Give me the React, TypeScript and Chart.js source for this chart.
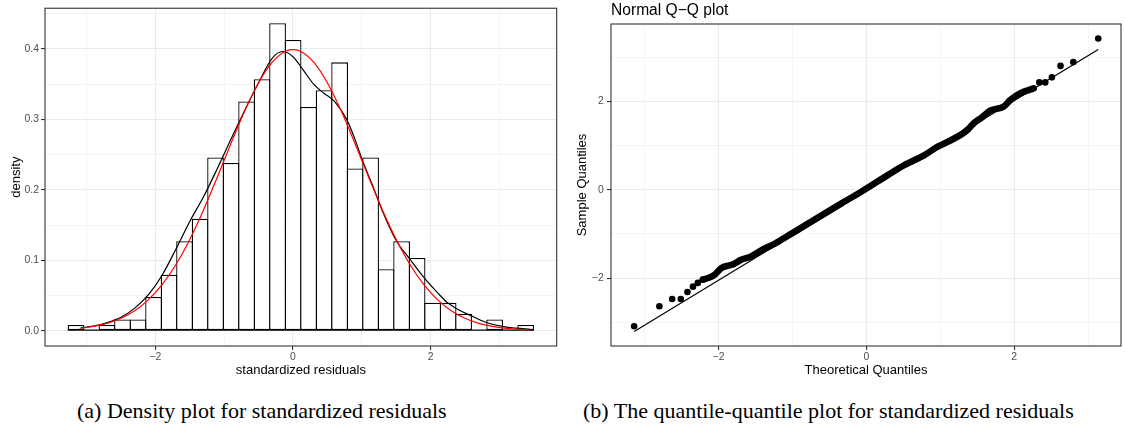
import React, { useEffect, useRef } from 'react';
import { Chart, registerables } from 'chart.js';

Chart.register(...registerables);

// ---------- Data: histogram of standardized residuals ----------
const binCenters = [
  -3.153, -2.928, -2.703, -2.477, -2.252, -2.026, -1.801, -1.576, -1.35, -1.125,
  -0.9, -0.674, -0.449, -0.224, 0.002, 0.227, 0.452, 0.678, 0.903, 1.128,
  1.354, 1.579, 1.804, 2.03, 2.255, 2.48, 2.706, 2.931, 3.156, 3.382,
];
const binDensity = [
  0.008, 0, 0.008, 0.016, 0.016, 0.0477, 0.0794, 0.127, 0.159, 0.246,
  0.238, 0.3254, 0.357, 0.4365, 0.4127, 0.3175, 0.3413, 0.381, 0.2302, 0.246,
  0.0873, 0.127, 0.1032, 0.0397, 0.0397, 0.0238, 0, 0.016, 0, 0.008,
];

// kernel density estimate (black)
const kdeX = [
  -3.08, -2.9, -2.7, -2.5, -2.3, -2.1, -1.9, -1.7, -1.5, -1.3, -1.1, -0.9, -0.7, -0.5,
  -0.3, -0.15, 0.0, 0.15, 0.3, 0.45, 0.6, 0.78, 0.9, 1.02, 1.15, 1.3, 1.5, 1.7, 1.92,
  2.1, 2.234, 2.4, 2.57, 2.8, 3.06, 3.25, 3.44,
];
const kdeY = [
  0.004, 0.0065, 0.0115, 0.019, 0.032, 0.051, 0.079, 0.116, 0.155, 0.19, 0.23, 0.272,
  0.313, 0.352, 0.387, 0.3964, 0.389, 0.37, 0.35, 0.337, 0.326, 0.3, 0.272, 0.239,
  0.208, 0.17, 0.128, 0.1014, 0.0734, 0.054, 0.0406, 0.03, 0.022, 0.012, 0.0056,
  0.0035, 0.0023,
];

// fitted normal density (red)
const normX = [
  -3.1, -2.9, -2.7, -2.5, -2.3, -2.1, -1.9, -1.7, -1.5, -1.3, -1.1, -0.9, -0.7, -0.5,
  -0.3, -0.1, 0.0, 0.1, 0.3, 0.5, 0.7, 0.9, 1.1, 1.3, 1.5, 1.7, 1.9, 2.1, 2.3, 2.5,
  2.7, 2.9, 3.1, 3.3, 3.44,
];
const normY = [
  0.0033, 0.006, 0.0104, 0.0175, 0.0283, 0.044, 0.0656, 0.094, 0.1295, 0.1714, 0.2179,
  0.2661, 0.3123, 0.3521, 0.3814, 0.397, 0.399, 0.397, 0.3814, 0.3521, 0.3123, 0.2661,
  0.2179, 0.1714, 0.1295, 0.094, 0.0656, 0.044, 0.0283, 0.0175, 0.0104, 0.006, 0.0033,
  0.0017, 0.0011,
];

const histXMajor = [-2, 0, 2];
const histYMajor = [0, 0.1, 0.2, 0.3, 0.4];

// ---------- Data: normal Q-Q plot ----------
const qqTitle = 'Normal Q\u2212Q plot';
// individually visible points (tails)
const qqTheoretical = [
  -3.141, -2.8, -2.627, -2.51, -2.42, -2.345, -2.28, -2.21,
  2.34, 2.42, 2.51, 2.627, 2.8, 3.137,
];
const qqSample = [
  -3.093, -2.64, -2.473, -2.473, -2.315, -2.195, -2.11, -2.036,
  2.436, 2.436, 2.55, 2.81, 2.896, 3.43,
];
// dense central run of points (overlapping markers)
const bandTheoretical = [
  -2.21, -2.14, -2.05, -1.96, -1.85, -1.785, -1.695, -1.56, -1.405, -1.225, -1.0,
  -0.778, -0.554, -0.33, -0.063, 0.295, 0.519, 0.787, 0.966, 1.15, 1.3, 1.38, 1.46,
  1.56, 1.68, 1.86, 1.95, 2.085, 2.264,
];
const bandSample = [
  -2.036, -2.0, -1.92, -1.77, -1.71, -1.674, -1.584, -1.51, -1.357, -1.207, -0.98,
  -0.754, -0.528, -0.3, -0.038, 0.34, 0.566, 0.79, 0.98, 1.13, 1.27, 1.38, 1.52,
  1.64, 1.8, 1.89, 2.04, 2.19, 2.3,
];
// reference line end points
const refLineX = [-3.14, 3.137];
const refLineY = [-3.21, 3.18];

const qqXMajor = [-2, 0, 2];
const qqYMajor = [-2, 0, 2];

// ---------- styling helpers ----------
const SANS = "'Liberation Sans', Arial, Helvetica, sans-serif";
const GRID = '#EBEBEB';
const DARK = '#333333';
const TICK_TXT = '#4D4D4D';

const near = (a: number, b: number) => Math.abs(a - b) < 1e-6;
const isIn = (v: number, list: number[]) => list.some((m) => near(m, v));
const fmtSigned = (v: number) => (v < 0 ? '\u2212' + Math.abs(v) : String(v));

function makeAxis(o: {
  min: number; max: number; step: number; majors: number[]; fmt: (v: number) => string;
  title: string; titlePad: any; tickPad: number; fit: (s: any) => void;
}) {
  return {
    type: 'linear',
    min: o.min,
    max: o.max,
    offset: false,
    grid: {
      offset: false,
      color: GRID,
      lineWidth: (c: any) => (c.tick && isIn(c.tick.value, o.majors) ? 1.1 : 0.55),
      tickColor: (c: any) => (c.tick && isIn(c.tick.value, o.majors) ? DARK : 'rgba(0,0,0,0)'),
      tickWidth: 1.1,
      tickLength: 4,
      drawTicks: true,
    },
    border: { display: false },
    ticks: {
      stepSize: o.step,
      includeBounds: false,
      autoSkip: false,
      maxRotation: 0,
      minRotation: 0,
      padding: o.tickPad,
      color: TICK_TXT,
      font: { family: SANS, size: 10.4 },
      callback: (v: any) => (isIn(Number(v), o.majors) ? o.fmt(Number(v)) : ''),
    },
    title: {
      display: true,
      text: o.title,
      color: '#000000',
      font: { family: SANS, size: 13 },
      padding: o.titlePad,
    },
    afterFit: o.fit,
  };
}

const panelBorder = {
  id: 'panelBorder',
  afterDraw(chart: any) {
    const { ctx, chartArea: a } = chart;
    ctx.save();
    ctx.strokeStyle = DARK;
    ctx.lineWidth = 1.1;
    ctx.strokeRect(a.left, a.top, a.right - a.left, a.bottom - a.top);
    ctx.restore();
  },
};

// plot title left-aligned with the panel
const panelTitle = {
  id: 'panelTitle',
  afterDraw(chart: any, _args: any, opts: any) {
    if (!opts || !opts.text) return;
    const { ctx, chartArea: a } = chart;
    ctx.save();
    ctx.fillStyle = '#000000';
    ctx.font = `15.6px ${SANS}`;
    ctx.textAlign = 'left';
    ctx.textBaseline = 'alphabetic';
    ctx.fillText(opts.text, a.left, 15);
    ctx.restore();
  },
};

// baseline along the histogram's outline (zero-count bins included)
const histBaseline = {
  id: 'histBaseline',
  afterDatasetDraw(chart: any, args: any) {
    const meta = chart.getDatasetMeta(args.index);
    if (meta.type !== 'bar') return;
    const els = meta.data;
    if (!els.length) return;
    const first = els[0];
    const last = els[els.length - 1];
    const y0 = chart.scales.y.getPixelForValue(0);
    const { ctx } = chart;
    ctx.save();
    ctx.strokeStyle = '#000000';
    ctx.lineWidth = 1.2;
    ctx.beginPath();
    ctx.moveTo(first.x - first.width / 2, y0 - 0.6);
    ctx.lineTo(last.x + last.width / 2, y0 - 0.6);
    ctx.stroke();
    ctx.restore();
  },
};

function HistChart() {
  const ref = useRef<HTMLCanvasElement | null>(null);
  useEffect(() => {
    if (!ref.current) return;
    const chart = new Chart(ref.current, {
      type: 'bar',
      data: {
        datasets: [
          {
            type: 'line',
            data: normX.map((x, i) => ({ x, y: normY[i] })),
            borderColor: '#FF0000',
            borderWidth: 1.2,
            pointRadius: 0,
            cubicInterpolationMode: 'monotone',
            fill: false,
          } as any,
          {
            type: 'line',
            data: kdeX.map((x, i) => ({ x, y: kdeY[i] })),
            borderColor: '#000000',
            borderWidth: 1.2,
            pointRadius: 0,
            cubicInterpolationMode: 'monotone',
            fill: false,
          } as any,
          {
            type: 'bar',
            data: binCenters.map((x, i) => ({ x, y: binDensity[i] })),
            backgroundColor: '#FFFFFF',
            borderColor: '#000000',
            borderWidth: 1.3,
            borderSkipped: false,
            barPercentage: 1.08,
            categoryPercentage: 1,
          } as any,
        ],
      },
      options: {
        animation: false,
        responsive: false,
        maintainAspectRatio: false,
        layout: { padding: { left: 0, top: 2.7, right: 3.3, bottom: 1.5 } },
        plugins: { legend: { display: false }, tooltip: { enabled: false }, title: { display: false } },
        scales: {
          x: makeAxis({
            min: -3.604, max: 3.833, step: 1, majors: histXMajor, fmt: fmtSigned,
            title: 'standardized residuals', titlePad: { top: 0, bottom: 0 }, tickPad: 1,
            fit: (s: any) => { s.height = 32.5; },
          }),
          y: makeAxis({
            min: -0.0218, max: 0.4578, step: 0.05, majors: histYMajor, fmt: (v) => v.toFixed(1),
            title: 'density', titlePad: { top: 8.2, bottom: 0 }, tickPad: 2,
            fit: (s: any) => { s.width = 45; },
          }),
        } as any,
      },
      plugins: [histBaseline, panelBorder],
    } as any);
    return () => chart.destroy();
  }, []);
  return (
    <canvas
      ref={ref}
      width={560}
      height={380}
      style={{ position: 'absolute', left: 0, top: 0, width: 560, height: 380 }}
    />
  );
}

function QQChart() {
  const ref = useRef<HTMLCanvasElement | null>(null);
  useEffect(() => {
    if (!ref.current) return;
    const chart = new Chart(ref.current, {
      type: 'scatter',
      data: {
        datasets: [
          {
            type: 'line',
            data: refLineX.map((x, i) => ({ x, y: refLineY[i] })),
            borderColor: '#000000',
            borderWidth: 1.2,
            pointRadius: 0,
            showLine: true,
            fill: false,
          } as any,
          {
            type: 'scatter',
            data: qqTheoretical.map((x, i) => ({ x, y: qqSample[i] })),
            backgroundColor: '#000000',
            borderColor: '#000000',
            borderWidth: 0,
            pointRadius: 3.3,
          } as any,
          {
            type: 'line',
            data: bandTheoretical.map((x, i) => ({ x, y: bandSample[i] })),
            borderColor: '#000000',
            borderWidth: 6.6,
            borderCapStyle: 'round',
            borderJoinStyle: 'round',
            pointRadius: 0,
            showLine: true,
            cubicInterpolationMode: 'monotone',
            fill: false,
          } as any,
        ],
      },
      options: {
        animation: false,
        responsive: false,
        maintainAspectRatio: false,
        layout: { padding: { left: 0, top: 24, right: 0, bottom: 1.5 } },
        plugins: {
          legend: { display: false },
          tooltip: { enabled: false },
          title: { display: false },
          panelTitle: { text: qqTitle },
        } as any,
        scales: {
          x: makeAxis({
            min: -3.454, max: 3.445, step: 1, majors: qqXMajor, fmt: fmtSigned,
            title: 'Theoretical Quantiles', titlePad: { top: 0, bottom: 0 }, tickPad: 1,
            fit: (s: any) => { s.height = 32.5; },
          }),
          y: makeAxis({
            min: -3.54, max: 3.76, step: 1, majors: qqYMajor, fmt: fmtSigned,
            title: 'Sample Quantiles', titlePad: { top: 14.7, bottom: 0 }, tickPad: 3.3,
            fit: (s: any) => { s.width = 51; },
          }),
        } as any,
      },
      plugins: [panelBorder, panelTitle],
    } as any);
    return () => chart.destroy();
  }, []);
  return (
    <canvas
      ref={ref}
      width={565}
      height={380}
      style={{ position: 'absolute', left: 560, top: 0, width: 565, height: 380 }}
    />
  );
}

const captionStyle: React.CSSProperties = {
  position: 'absolute',
  top: 400,
  fontFamily: "'Liberation Serif', 'Times New Roman', serif",
  fontSize: 22,
  lineHeight: '22px',
  whiteSpace: 'nowrap',
  color: '#000',
};

export default function App() {
  return (
    <div style={{ position: 'absolute', left: 0, top: 0, width: 1125, height: 429, background: '#fff', overflow: 'hidden' }}>
      <HistChart />
      <QQChart />
      <div style={{ ...captionStyle, left: 77 }}>(a) Density plot for standardized residuals</div>
      <div style={{ ...captionStyle, left: 583 }}>(b) The quantile-quantile plot for standardized residuals</div>
    </div>
  );
}
